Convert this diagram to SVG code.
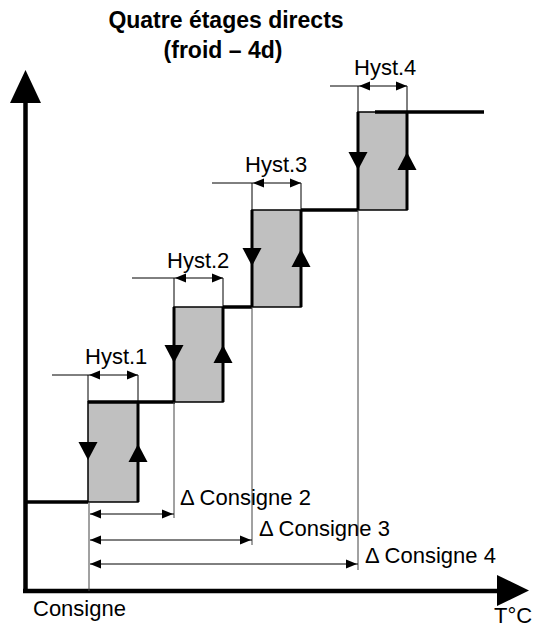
<svg xmlns="http://www.w3.org/2000/svg" width="544" height="629" viewBox="0 0 544 629">
<style>
text{font-family:"Liberation Sans",Arial,sans-serif;font-size:22px;fill:#000}
.title{font-weight:bold;text-anchor:middle;font-size:23px}
.box{fill:#c0c0c0;stroke:#000;stroke-width:1.5}
.step{fill:none;stroke:#000;stroke-width:3.5}
.edge{fill:none;stroke:#000;stroke-width:3}
.thin{fill:none;stroke:#000;stroke-width:1}
.ext{fill:none;stroke:#444;stroke-width:1}
.axis{fill:none;stroke:#000;stroke-width:4.5}
</style>
<defs>
<path id="tdown" d="M-9.5,-9 L9.5,-9 L0,9 Z" fill="#000"/>
<path id="tup" d="M-9.5,9 L9.5,9 L0,-9 Z" fill="#000"/>
<path id="al" d="M0,0 L11,-4.5 L11,4.5 Z" fill="#000"/>
<path id="ar" d="M0,0 L-11,-4.5 L-11,4.5 Z" fill="#000"/>
</defs>
<g id="title">
<text class="title" x="226" y="28">Quatre étages directs</text>
<text class="title" x="223" y="58">(froid – 4d)</text>
</g>
<g id="axes">
<line class="axis" x1="25.5" y1="100" x2="25.5" y2="593"/>
<path d="M25.5,70 L41,103 L10,103 Z" fill="#000"/>
<line class="axis" x1="23" y1="591" x2="500" y2="591"/>
<path d="M529,590.5 L497,575 L497,606 Z" fill="#000"/>
<text x="33" y="616">Consigne</text>
<text x="494" y="623">T°C</text>
</g>
<g id="stage1">
<rect class="box" x="88" y="402" width="50" height="100"/>
<line class="edge" x1="138" y1="402" x2="138" y2="502"/>
<use href="#tdown" x="88" y="451"/>
<use href="#tup" x="138" y="453"/>
</g>
<g id="stage2">
<rect class="box" x="174" y="307" width="49" height="95"/>
<line class="edge" x1="174" y1="307" x2="174" y2="402"/>
<line class="edge" x1="223" y1="307" x2="223" y2="402"/>
<use href="#tdown" x="174" y="354"/>
<use href="#tup" x="223" y="354"/>
</g>
<g id="stage3">
<rect class="box" x="252" y="210" width="49" height="97"/>
<line class="edge" x1="252" y1="210" x2="252" y2="307"/>
<line class="edge" x1="301" y1="210" x2="301" y2="307"/>
<use href="#tdown" x="252" y="257"/>
<use href="#tup" x="301" y="258"/>
</g>
<g id="stage4">
<rect class="box" x="358" y="112" width="49" height="98"/>
<line class="edge" x1="358" y1="112" x2="358" y2="210"/>
<line class="edge" x1="407" y1="112" x2="407" y2="210"/>
<use href="#tdown" x="358" y="161"/>
<use href="#tup" x="407" y="161"/>
</g>
<g id="connectors">
<path class="step" d="M25,502 H88"/>
<path class="step" d="M88,402 H175"/>
<path class="step" d="M223,307 H252"/>
<path class="step" d="M301,210 H358"/>
<path class="step" d="M375,112 H484"/>
</g>
<g id="hyst1">
<path class="thin" d="M52,375 H138 M88,375 V402 M138,375 V402"/>
<use href="#al" x="89" y="375"/>
<use href="#ar" x="138" y="375"/>
<text x="85" y="364">Hyst.1</text>
</g>
<g id="hyst2">
<path class="thin" d="M132,278 H223 M174,278 V307 M223,278 V307"/>
<use href="#al" x="175" y="278"/>
<use href="#ar" x="223" y="278"/>
<text x="167" y="268">Hyst.2</text>
</g>
<g id="hyst3">
<path class="thin" d="M212,183 H301 M252,183 V210 M301,183 V210"/>
<use href="#al" x="253" y="183"/>
<use href="#ar" x="301" y="183"/>
<text x="245" y="172">Hyst.3</text>
</g>
<g id="hyst4">
<path class="thin" d="M330,86 H407 M358,86 V112 M407,86 V112"/>
<use href="#al" x="359" y="86"/>
<use href="#ar" x="407" y="86"/>
<text x="354" y="75">Hyst.4</text>
</g>
<g id="deltas">
<path class="ext" d="M89,502 V591 M174,402 V518 M252,307 V545 M358,210 V570"/>
<path class="thin" d="M90,514 H174 M90,540 H252 M90,564 H358"/>
<use href="#al" x="90" y="514"/>
<use href="#ar" x="173" y="514"/>
<use href="#al" x="90" y="540"/>
<use href="#ar" x="251" y="540"/>
<use href="#al" x="90" y="564"/>
<use href="#ar" x="357" y="564"/>
<text x="180" y="505">Δ Consigne 2</text>
<text x="259" y="536">Δ Consigne 3</text>
<text x="365" y="563">Δ Consigne 4</text>
</g>
</svg>
